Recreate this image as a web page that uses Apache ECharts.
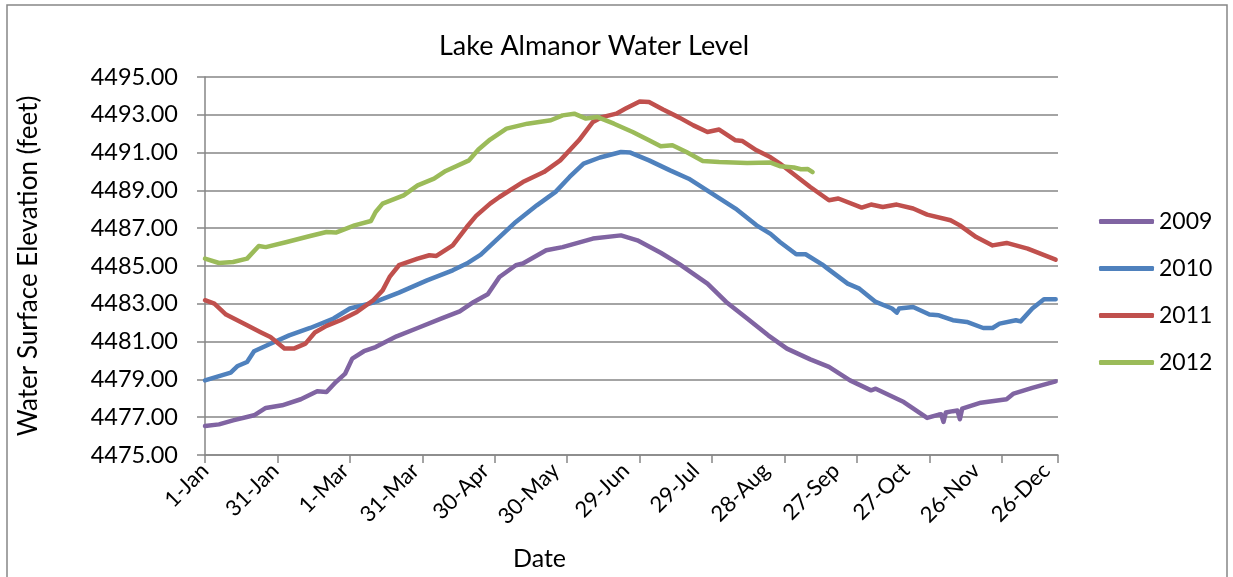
<!DOCTYPE html>
<html>

<head>
    <meta charset="utf-8">
    <title>Lake Almanor Water Level</title>
    <script src="https://cdn.jsdelivr.net/npm/echarts/dist/echarts.min.js"></script>
    <style>
        body { margin: 0; background: #fff; }
    </style>
</head>

<body>
    <div id="main" style="width: 1233px;height: 577px;"></div>

    <script type="text/javascript">
        // tick labels, every 30 days (leap-year calendar)
        var dateLabels = ['1-Jan', '31-Jan', '1-Mar', '31-Mar', '30-Apr', '30-May', '29-Jun',
            '29-Jul', '28-Aug', '27-Sep', '27-Oct', '26-Nov', '26-Dec'];
        var years = ['2009', '2010', '2011', '2012'];

        // day of year (0 = 1-Jan) and water level
        var day2009 = [0, 6, 12, 21, 26, 33, 41, 48, 52, 56, 60, 63, 68, 73, 82, 91, 101, 109, 115, 121,
            126, 133, 136, 146, 153, 166, 178, 185, 195, 203, 215, 223, 232, 241, 249, 259, 267, 276, 285, 287,
            299, 309, 314, 315, 316, 317, 320, 322, 323, 324, 332, 343, 346, 354, 364];
        var level2009 = [4476.53, 4476.62, 4476.83, 4477.10, 4477.49, 4477.63, 4477.95, 4478.37, 4478.33, 4478.86,
            4479.31, 4480.10, 4480.49, 4480.71, 4481.28, 4481.72, 4482.22, 4482.60, 4483.10, 4483.50,
            4484.42, 4485.04, 4485.13, 4485.83, 4486.00, 4486.45, 4486.62, 4486.36, 4485.70, 4485.10,
            4484.07, 4483.10, 4482.22, 4481.33, 4480.63, 4480.06, 4479.66, 4478.95, 4478.42, 4478.51,
            4477.80, 4476.96, 4477.14, 4477.15, 4476.75, 4477.25, 4477.32, 4477.35, 4476.89, 4477.45,
            4477.77, 4477.95, 4478.25, 4478.55, 4478.90];

        var day2010 = [0, 11, 14, 18, 21, 28, 36, 45, 55, 62, 72, 83, 95, 106, 112, 118, 126, 133, 142, 150,
            156, 162, 169, 178, 182, 190, 199, 207, 217, 227, 236, 242, 246, 253, 257, 264, 266, 275, 280, 287,
            294, 296, 297, 303, 310, 314, 320, 326, 333, 337, 340, 347, 349, 354, 359, 364];
        var level2010 = [4478.95, 4479.36, 4479.71, 4479.92, 4480.49, 4480.89, 4481.33, 4481.72, 4482.22, 4482.75,
            4483.06, 4483.59, 4484.24, 4484.77, 4485.13, 4485.60, 4486.53, 4487.33, 4488.21, 4488.92,
            4489.71, 4490.42, 4490.74, 4491.03, 4491.00, 4490.59, 4490.06, 4489.62, 4488.83, 4488.04,
            4487.15, 4486.70, 4486.27, 4485.62, 4485.62, 4485.09, 4484.90, 4484.07, 4483.80, 4483.10,
            4482.75, 4482.53, 4482.75, 4482.83, 4482.43, 4482.39, 4482.13, 4482.04, 4481.72, 4481.72,
            4481.95, 4482.13, 4482.07, 4482.75, 4483.24, 4483.24];

        var day2011 = [0, 4, 9, 18, 24, 28, 34, 38, 43, 47, 52, 58, 65, 72, 76, 79, 83, 91, 96, 99,
            106, 112, 116, 122, 126, 136, 145, 152, 160, 166, 170, 176, 180, 186, 190, 196, 203, 209, 215, 220,
            227, 230, 236, 242, 246, 259, 267, 271, 281, 285, 290, 296, 303, 309, 319, 323, 330, 337, 343, 352, 364];
        var level2011 = [4483.19, 4483.01, 4482.43, 4481.86, 4481.48, 4481.24, 4480.63, 4480.63, 4480.89, 4481.48,
            4481.83, 4482.13, 4482.57, 4483.19, 4483.71, 4484.42, 4485.04, 4485.39, 4485.57, 4485.53,
            4486.09, 4487.06, 4487.65, 4488.30, 4488.65, 4489.44, 4489.97, 4490.59, 4491.65, 4492.62,
            4492.88, 4493.06, 4493.33, 4493.71, 4493.68, 4493.28, 4492.85, 4492.44, 4492.09, 4492.22,
            4491.65, 4491.61, 4491.12, 4490.75, 4490.42, 4489.18, 4488.48, 4488.57, 4488.09, 4488.25,
            4488.12, 4488.25, 4488.04, 4487.72, 4487.42, 4487.15, 4486.53, 4486.09, 4486.22, 4485.92, 4485.34];

        var day2012 = [0, 6, 12, 18, 23, 26, 35, 45, 52, 56, 64, 71, 73, 76, 85, 91, 98, 103, 113, 117,
            122, 129, 138, 148, 153, 158, 163, 168, 175, 183, 190, 195, 200, 206, 213, 220, 232, 242, 246, 252,
            255, 258, 260];
        var level2012 = [4485.39, 4485.16, 4485.21, 4485.39, 4486.06, 4486.00, 4486.27, 4486.59, 4486.80, 4486.77,
            4487.15, 4487.38, 4487.86, 4488.30, 4488.74, 4489.27, 4489.62, 4490.03, 4490.59, 4491.16,
            4491.69, 4492.27, 4492.53, 4492.71, 4492.97, 4493.06, 4492.80, 4492.88, 4492.53, 4492.09,
            4491.65, 4491.33, 4491.39, 4491.03, 4490.56, 4490.50, 4490.45, 4490.47, 4490.28, 4490.21,
            4490.12, 4490.13, 4489.97];

        var colors = ['#8064A2', '#4F81BD', '#C0504D', '#9BBB59'];
        var font = 'Lato';

        function pairs(days, levels) {
            return days.map(function (d, i) { return [d, levels[i]]; });
        }
        var seriesData = [pairs(day2009, level2009), pairs(day2010, level2010),
            pairs(day2011, level2011), pairs(day2012, level2012)];

        var myChart = echarts.init(document.getElementById('main'));

        var option = {
            animation: false,
            color: colors,
            title: {
                text: 'Lake Almanor Water Level',
                left: 589,
                textAlign: 'center',
                top: 28,
                textStyle: { fontFamily: font, fontSize: 27, fontWeight: 'normal', color: '#000' }
            },
            legend: {
                orient: 'vertical',
                left: 1094,
                top: 205,
                itemWidth: 55,
                itemHeight: 5,
                itemGap: 24,
                icon: 'roundRect',
                data: years,
                textStyle: { fontFamily: font, fontSize: 23, color: '#000' }
            },
            grid: { left: 205, right: 175, top: 77, bottom: 122 },
            xAxis: [{
                type: 'value',
                min: 0,
                max: 365,
                interval: 30,
                splitLine: { show: false },
                axisLine: { show: false },
                axisTick: { show: false },
                axisLabel: {
                    rotate: 45,
                    margin: 12,
                    fontFamily: font,
                    fontSize: 22,
                    color: '#000',
                    showMaxLabel: false,
                    formatter: function (v) {
                        return v % 30 === 0 ? dateLabels[v / 30] : '';
                    }
                }
            }, {
                // tick marks of the original sit about every 31 days
                type: 'value',
                position: 'bottom',
                min: 0,
                max: 365,
                interval: 31,
                splitLine: { show: false },
                axisLabel: { show: false },
                axisLine: { lineStyle: { color: '#868686', width: 1.5 } },
                axisTick: { length: 8, lineStyle: { color: '#868686', width: 1.5 } }
            }],
            yAxis: {
                type: 'value',
                min: 4475,
                max: 4495,
                interval: 2,
                name: 'Water Surface Elevation (feet)',
                nameLocation: 'middle',
                nameGap: 163,
                nameTextStyle: { fontFamily: font, fontSize: 26, color: '#000' },
                axisLine: { show: true, lineStyle: { color: '#868686', width: 1.5 } },
                axisTick: { show: true, length: 8, lineStyle: { color: '#868686', width: 1.5 } },
                splitLine: { lineStyle: { color: '#868686', width: 1.5 } },
                axisLabel: {
                    margin: 27,
                    fontFamily: font,
                    fontSize: 23.5,
                    color: '#000',
                    formatter: function (v) { return v.toFixed(2); }
                }
            },
            graphic: [{
                type: 'rect',
                shape: { x: 7, y: 5, width: 1220, height: 600 },
                style: { fill: 'none', stroke: '#868686', lineWidth: 1.5 },
                silent: true
            }, {
                type: 'text',
                left: 513,
                top: 546,
                style: { text: 'Date', fontFamily: font, fontSize: 25, fill: '#000' }
            }],
            series: years.map(function (y, i) {
                return {
                    name: y,
                    type: 'line',
                    xAxisIndex: 0,
                    showSymbol: false,
                    symbol: 'none',
                    lineStyle: { width: 4.5, cap: 'round', join: 'round' },
                    data: seriesData[i]
                };
            })
        };

        myChart.setOption(option);
    </script>
</body>

</html>
